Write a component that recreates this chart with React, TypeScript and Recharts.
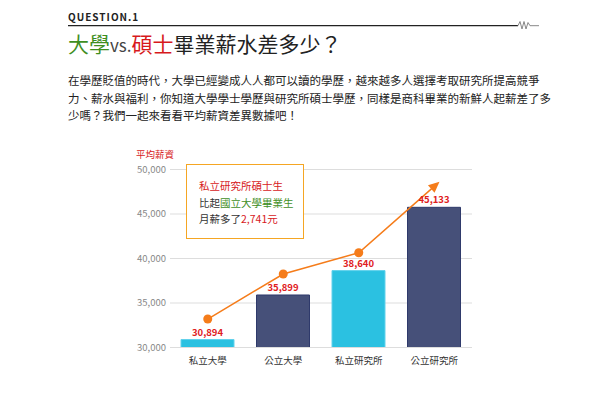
import { ComposedChart, Bar, Line, XAxis, YAxis, CartesianGrid, Cell, LabelList } from 'recharts'

const categories = ['私立大學', '公立大學', '私立研究所', '公立研究所']
const salary = [30894, 35899, 38640, 45750]
const salaryLabels = ['30,894', '35,899', '38,640', '45,133']
const trend = [33200, 38260, 40650, 48100]
const yTicks = [30000, 35000, 40000, 45000, 50000]

const barFill = ['#2bc1e1', '#465079', '#2bc1e1', '#465079']
const barStroke = ['#62d2ec', '#2f3a6b', '#62d2ec', '#2f3a6b']

const data = categories.map((name, i) => ({ name, salary: salary[i], trend: trend[i], label: salaryLabels[i] }))

const FONT = '"Noto Sans CJK TC", "Noto Sans", sans-serif'
const ORANGE = '#f57c1a'
const RED = '#d7191c'
const GREEN = '#3f8f1f'

let prev = { x: 0, y: 0 }

function TrendDot(props: any) {
  const { cx, cy, index } = props
  if (index < trend.length - 1) {
    prev = { x: cx, y: cy }
    return <circle key={'d' + index} cx={cx} cy={cy} r={4.5} fill={ORANGE} />
  }
  // last point gets an arrow head instead of a dot
  const dx = cx - prev.x
  const dy = cy - prev.y
  const len = Math.sqrt(dx * dx + dy * dy) || 1
  const ux = dx / len
  const uy = dy / len
  const tip = [cx + ux * 7, cy + uy * 7]
  const bx = cx - ux * 4
  const by = cy - uy * 4
  const pts = `${tip[0]},${tip[1]} ${bx - uy * 5},${by + ux * 5} ${bx + uy * 5},${by - ux * 5}`
  return <polygon key={'d' + index} points={pts} fill={ORANGE} />
}

function App() {
  return (
    <div style={{ position: 'absolute', left: 0, top: 0, width: 600, height: 395, background: '#fff', fontFamily: FONT }}>
      <div style={{ position: 'absolute', left: 68, top: 10, fontSize: 10, fontWeight: 700, letterSpacing: 1, color: '#222', lineHeight: '14px' }}>
        QUESTION.1
      </div>
      <svg style={{ position: 'absolute', left: 0, top: 0 }} width={600} height={40}>
        <line x1={68} y1={25.7} x2={518} y2={25.7} stroke="#222" strokeWidth={1.3} />
        <polyline points="518,25.7 520,21.5 522,29 524,21.5 526,29 528,22.5 530,25.7 539,25.7" fill="none" stroke="#888" strokeWidth={1} />
      </svg>
      <div style={{ position: 'absolute', left: 68, top: 30, fontSize: 21, lineHeight: '26px', color: '#222', whiteSpace: 'nowrap' }}>
        <span style={{ color: GREEN }}>大學</span>
        <span style={{ color: '#444', fontSize: 17 }}>vs.</span>
        <span style={{ color: RED }}>碩士</span>
        畢業薪水差多少？
      </div>
      <div style={{ position: 'absolute', left: 68, top: 72, fontSize: 11.5, lineHeight: '17.5px', color: '#222', whiteSpace: 'pre' }}>
        {'在學歷貶值的時代，大學已經變成人人都可以讀的學歷，越來越多人選擇考取研究所提高競爭\n力、薪水與福利，你知道大學學士學歷與研究所碩士學歷，同樣是商科畢業的新鮮人起薪差了多\n少嗎？我們一起來看看平均薪資差異數據吧！'}
      </div>
      <div style={{ position: 'absolute', left: 136, top: 147, fontSize: 9.5, lineHeight: '14px', color: RED }}>平均薪資</div>

      <div style={{ position: 'absolute', left: 100, top: 140 }}>
        <ComposedChart width={400} height={240} data={data} margin={{ top: 29.5, right: 28, left: 20, bottom: 7.5 }}>
          <CartesianGrid vertical={false} stroke="#dddddd" />
          <YAxis
            domain={[30000, 50000]}
            ticks={yTicks}
            width={50}
            axisLine={false}
            tickLine={false}
            tickSize={4}
            tickMargin={0}
            tickFormatter={(v: number) => v.toLocaleString('en-US')}
            tick={{ fontSize: 9.5, fill: '#888', fontFamily: FONT }}
          />
          <XAxis
            dataKey="name"
            height={25}
            axisLine={{ stroke: '#dddddd' }}
            tickLine={false}
            tickMargin={4}
            tick={{ fontSize: 9.5, fill: '#333', fontFamily: FONT }}
          />
          <Bar dataKey="salary" barSize={53} isAnimationActive={false}>
            {data.map((d, i) => (
              <Cell key={d.name} fill={barFill[i]} stroke={barStroke[i]} strokeWidth={1} />
            ))}
            <LabelList dataKey="label" position="top" offset={4} fill="#e0201c" fontSize={9.5} fontWeight={700} fontFamily={FONT} />
          </Bar>
          <Line
            dataKey="trend"
            stroke={ORANGE}
            strokeWidth={1.5}
            dot={(p: any) => <TrendDot {...p} />}
            activeDot={false}
            isAnimationActive={false}
          />
        </ComposedChart>
      </div>

      <div
        style={{
          position: 'absolute',
          left: 186,
          top: 164,
          width: 116,
          height: 73,
          border: '1px solid #f5a623',
          background: '#fff',
          boxSizing: 'content-box',
          fontSize: 10.5,
          lineHeight: '16.5px',
          color: '#333',
          padding: 0,
        }}
      >
        <div style={{ position: 'absolute', left: 12, top: 13, whiteSpace: 'nowrap' }}>
          <div style={{ color: RED }}>私立研究所碩士生</div>
          <div>
            比起<span style={{ color: GREEN }}>國立大學畢業生</span>
          </div>
          <div>
            月薪多了<span style={{ color: RED }}>2,741元</span>
          </div>
        </div>
      </div>
    </div>
  )
}

export default App
